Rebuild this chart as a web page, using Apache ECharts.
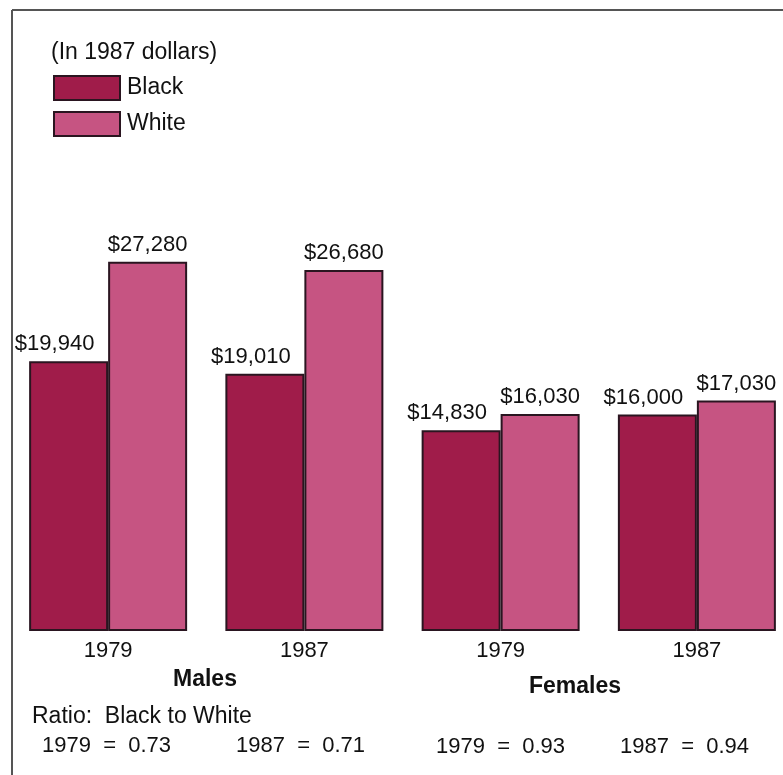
<!DOCTYPE html>
<html>
<head>
<meta charset="utf-8">
<script src="https://cdn.jsdelivr.net/npm/echarts@6/dist/echarts.min.js"></script>
<style>
  html, body { margin: 0; padding: 0; background: #fff; }
  #chart { width: 783px; height: 775px; }
</style>
</head>
<body>
<div id="chart"></div>
<script>
// Median income of year-round full-time workers, in 1987 dollars
const categories = ['1979', '1987', '1979', '1987'];
const blackValues = [19940, 19010, 14830, 16000];
const whiteValues = [27280, 26680, 16030, 17030];
const groupNames = ['Males', 'Females'];
const ratioYears = ['1979', '1987', '1979', '1987'];
const ratioValues = ['0.73', '0.71', '0.93', '0.94'];

const FONT = '"Liberation Sans", Arial, Helvetica, sans-serif';
const BLACK_COLOR = '#a01c4a';
const WHITE_COLOR = '#c65482';
const EDGE = '#2a1520';
const INK = '#111';

const fmt = v => '$' + v.toLocaleString('en-US');

const chart = echarts.init(document.getElementById('chart'), null, { renderer: 'canvas' });

const ratioX = [42, 236, 436, 620];
const ratioTop = [735, 735, 736, 736];

const graphics = [
  { type: 'line', shape: { x1: 12, y1: 10, x2: 783, y2: 10 }, style: { stroke: '#555', lineWidth: 2 } },
  { type: 'line', shape: { x1: 12, y1: 10, x2: 12, y2: 775 }, style: { stroke: '#555', lineWidth: 2 } },
  { type: 'text', left: 51, top: 41, style: { text: '(In 1987 dollars)', font: '23px ' + FONT, fill: INK } },
  { type: 'text', left: 173, top: 668, style: { text: groupNames[0], font: 'bold 23px ' + FONT, fill: INK } },
  { type: 'text', left: 529, top: 675, style: { text: groupNames[1], font: 'bold 23px ' + FONT, fill: INK } },
  { type: 'text', left: 32, top: 705, style: { text: 'Ratio:  Black to White', font: '23px ' + FONT, fill: INK } }
];
ratioValues.forEach((r, i) => {
  graphics.push({
    type: 'text', left: ratioX[i], top: ratioTop[i],
    style: { text: ratioYears[i] + '  =  ' + r, font: '22px ' + FONT, fill: INK }
  });
});

chart.setOption({
  animation: false,
  backgroundColor: '#fff',
  textStyle: { fontFamily: FONT },
  legend: {
    orient: 'vertical',
    left: 48,
    top: 70,
    itemWidth: 66,
    itemHeight: 24,
    itemGap: 10,
    icon: 'rect',
    textStyle: { fontSize: 23, color: INK, padding: [0, 0, 0, 2] },
    data: ['Black', 'White']
  },
  grid: { left: 10, top: 225, width: 785, height: 406, outerBoundsMode: 'none' },
  xAxis: {
    type: 'category',
    data: categories,
    axisLine: { show: false },
    axisTick: { show: false },
    axisLabel: { fontSize: 22, color: INK, margin: 9 }
  },
  yAxis: {
    type: 'value',
    min: 0,
    max: 30000,
    show: false,
    splitLine: { show: false }
  },
  series: [
    {
      name: 'Black',
      type: 'bar',
      data: blackValues,
      barWidth: 79,
      barGap: '0%',
      itemStyle: { color: BLACK_COLOR, borderColor: EDGE, borderWidth: 2 },
      label: {
        show: true, position: 'top', distance: 6, offset: [-14, 0],
        fontSize: 22, color: INK, formatter: p => fmt(p.value)
      }
    },
    {
      name: 'White',
      type: 'bar',
      data: whiteValues,
      barWidth: 79,
      barGap: '0%',
      itemStyle: { color: WHITE_COLOR, borderColor: EDGE, borderWidth: 2 },
      label: {
        show: true, position: 'top', distance: 6,
        fontSize: 22, color: INK, formatter: p => fmt(p.value)
      }
    }
  ],
  graphic: graphics
});
</script>
</body>
</html>
